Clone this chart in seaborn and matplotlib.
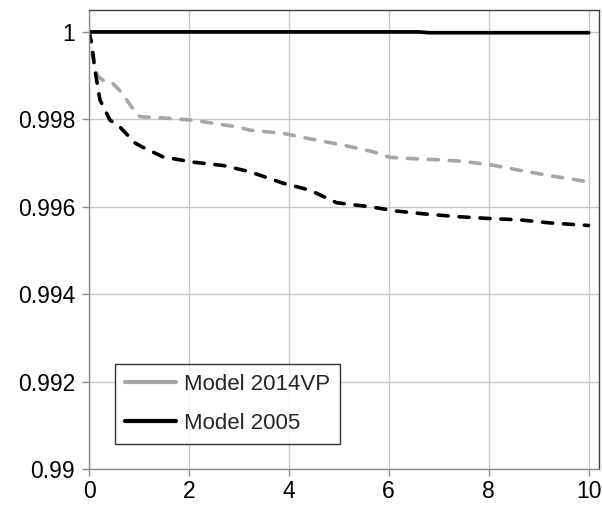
import matplotlib
matplotlib.use("Agg")
import matplotlib.pyplot as plt
import seaborn as sns

# Solid lines (legend entries)
m2014_x = [0, 10]
m2014_y = [1.0, 1.0]
m2005_x = [0, 6.6, 6.8, 10]
m2005_y = [1.0, 1.0, 0.99998, 0.99998]

# Dashed lines
grey_dash_x = [0, 0.05, 0.12, 0.18, 0.3, 0.46, 0.65, 0.92, 1.02, 1.48, 2.08, 3.0, 3.22,
               3.88, 4.48, 5.08, 5.68, 6.02, 6.28, 6.88, 7.48, 8.08, 8.68, 9.28, 10.0]
grey_dash_y = [1.0, 0.99960, 0.99915, 0.99898, 0.99888, 0.99884, 0.99862, 0.99817, 0.99806,
               0.99803, 0.99798, 0.99782, 0.99775, 0.99768, 0.99754, 0.99741, 0.99726,
               0.99713, 0.99711, 0.99708, 0.99704, 0.99695, 0.99682, 0.99670, 0.99657]
black_dash_x = [0, 0.054, 0.12, 0.22, 0.42, 0.58, 0.92, 1.06, 1.48, 2.08, 2.7, 3.22, 3.88,
                4.42, 4.96, 5.62, 6.16, 6.76, 7.42, 8.02, 8.62, 9.22, 10.0]
black_dash_y = [1.0, 0.99973, 0.99912, 0.99844, 0.99798, 0.99787, 0.99746, 0.99737, 0.99714,
                0.99702, 0.99694, 0.99680, 0.99654, 0.99638, 0.99609, 0.99600, 0.99590,
                0.99583, 0.99577, 0.99573, 0.99570, 0.99563, 0.99557]

x_ticks = [0, 2, 4, 6, 8, 10]
y_ticks = [0.99, 0.992, 0.994, 0.996, 0.998, 1.0]
y_tick_labels = ["0.99", "0.992", "0.994", "0.996", "0.998", "1"]

sns.set_theme(style="white")
plt.rcParams['font.family'] = ['Liberation Sans', 'DejaVu Sans']

fig = plt.figure(figsize=(6.02, 5.08), dpi=100)
ax = fig.add_axes([89 / 602, (508 - 469) / 508, (598.5 - 89) / 602, (469 - 10) / 508])

grey = "#a6a6a6"
sns.lineplot(x=grey_dash_x, y=grey_dash_y, ax=ax, color=grey, lw=2.6, sort=False,
             legend=False, estimator=None)
sns.lineplot(x=black_dash_x, y=black_dash_y, ax=ax, color="black", lw=2.6, sort=False,
             legend=False, estimator=None)
for ln in ax.lines[-2:]:
    ln.set_linestyle((0, (2.8, 3.0)))
    ln.set_dash_capstyle("round")
sns.lineplot(x=m2014_x, y=m2014_y, ax=ax, color=grey, lw=2.3, sort=False,
             label="Model 2014VP", estimator=None)
sns.lineplot(x=m2005_x, y=m2005_y, ax=ax, color="black", lw=2.6, sort=False,
             label="Model 2005", estimator=None)

ax.set_xlim(0, 10.2)
ax.set_ylim(0.99, 1.0005)
ax.set_xticks(x_ticks)
ax.set_yticks(y_ticks)
ax.set_xticklabels([str(t) for t in x_ticks])
ax.set_yticklabels(y_tick_labels)
ax.set_xlabel("")
ax.set_ylabel("")
ax.grid(True, color="#c8c8c8", lw=1.0)
ax.set_axisbelow(True)
for s in ["left", "bottom"]:
    ax.spines[s].set_color("#8c8c8c")
    ax.spines[s].set_linewidth(1.0)
for s in ["top", "right"]:
    ax.spines[s].set_color("#404040")
    ax.spines[s].set_linewidth(1.0)
ax.tick_params(axis="both", direction="out", length=5, width=1, color="#8c8c8c",
               labelsize=16.5, labelcolor="black", left=True, bottom=True)
ax.tick_params(axis="x", pad=3)
ax.tick_params(axis="y", pad=5)

leg = ax.legend(loc="lower left", bbox_to_anchor=(0.051, 0.0545), borderaxespad=0,
                fontsize=16, handlelength=2.3, handletextpad=0.35, labelspacing=0.8,
                fancybox=False, frameon=True, borderpad=0.45)
leg.get_frame().set_edgecolor("black")
leg.get_frame().set_linewidth(1.0)
for h in leg.get_lines():
    h.set_linewidth(3)

fig.savefig("out.png", dpi=100)
